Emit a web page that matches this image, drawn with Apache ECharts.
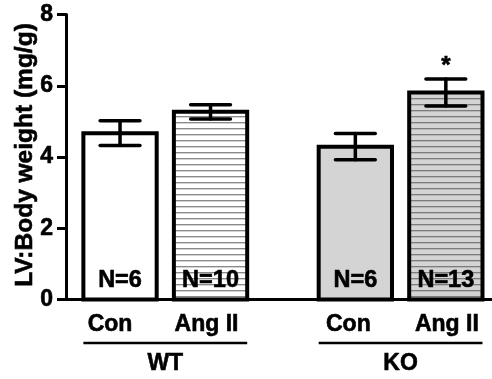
<!DOCTYPE html>
<html>
<head>
<meta charset="utf-8">
<script src="https://cdn.jsdelivr.net/npm/echarts@6/dist/echarts.min.js"></script>
<style>
  html, body { margin: 0; padding: 0; background: #fff; }
  #chart { width: 492px; height: 379px; }
</style>
</head>
<body>
<div id="chart"></div>
<script>
// LV:Body weight by genotype and treatment (mean ± SEM)
const genotypes   = ['WT', 'WT', 'KO', 'KO'];
const treatments  = ['Con', 'Ang II', 'Con', 'Ang II'];
const barPos      = [1, 2, 3.6, 4.6];
const means       = [4.67, 5.27, 4.29, 5.81];
const sems        = [0.35, 0.20, 0.37, 0.38];
const nLabels     = ['N=6', 'N=10', 'N=6', 'N=13'];
const marks       = ['', '', '', '*'];
const groupNames  = ['WT', 'KO'];
const groupSpans  = [[1, 2], [3.6, 4.6]];
const yTicks      = [0, 2, 4, 6, 8];

const FONT = '"Liberation Sans", Arial, Helvetica, sans-serif';
const BAR_W = 0.81;          // bar width in x-axis units
const CAP_W = 0.44;          // error bar cap width in x-axis units
const labelDx = [-10, -4, -7, 1];
const HEAVY = { stroke: '#000', lineWidth: 0.6 };   // slightly heavier bold text

// horizontal stripe fill
function stripes(bg, line) {
  const c = document.createElement('canvas');
  c.width = 6; c.height = 6;
  const g = c.getContext('2d');
  g.fillStyle = bg; g.fillRect(0, 0, 6, 6);
  g.fillStyle = line; g.fillRect(0, 2, 6, 1);
  g.fillStyle = 'rgba(128,128,128,0.35)'; g.fillRect(0, 3, 6, 1);
  return { image: c, repeat: 'repeat' };
}
const fills = ['#ffffff', stripes('#ffffff', '#8a8a8a'), '#d4d4d4', stripes('#d4d4d4', '#7c7c7c')];

function txt(text, size, align, vAlign) {
  return Object.assign({ text, fill: '#000', font: 'bold ' + size + 'px ' + FONT, align, verticalAlign: vAlign }, HEAVY);
}

const barData = barPos.map((x, i) => [x, means[i], sems[i], i]);

const chart = echarts.init(document.getElementById('chart'), null, { renderer: 'canvas' });
chart.setOption({
  animation: false,
  grid: { left: 66, right: 0, top: 14.5, bottom: 79.5 },
  xAxis: {
    type: 'value', min: 0.403, max: 5.11,
    axisLine: { show: true, onZero: false, lineStyle: { color: '#000', width: 3 } },
    axisTick: { show: false }, axisLabel: { show: false }, splitLine: { show: false }
  },
  yAxis: {
    type: 'value', min: yTicks[0], max: yTicks[yTicks.length - 1], interval: 2,
    axisLine: { show: true, lineStyle: { color: '#000', width: 3 } },
    axisTick: { show: true, inside: false, length: 9, lineStyle: { color: '#000', width: 3 } },
    axisLabel: { color: '#000', fontFamily: FONT, fontWeight: 'bold', fontSize: 23, margin: 13,
                 textBorderColor: '#000', textBorderWidth: 0.6 },
    splitLine: { show: false }
  },
  graphic: [{
    type: 'text', x: 25.5, y: 155, rotation: Math.PI / 2,
    style: txt('LV:Body weight (mg/g)', 24.5, 'center', 'middle')
  }],
  series: [{
    type: 'custom',
    data: barData,
    clip: false,
    renderItem(params, api) {
      const x = api.value(0), m = api.value(1), s = api.value(2), i = api.value(3);
      const top = api.coord([x, m]);
      const base = api.coord([x, 0]);
      const w = api.size([BAR_W, 0])[0];
      const cw = api.size([CAP_W, 0])[0];
      const hi = api.coord([x, m + s]);
      const lo = api.coord([x, m - s]);
      const err = { stroke: '#000', lineWidth: 3.5, lineCap: 'round' };
      const children = [
        { type: 'rect', shape: { x: top[0] - w / 2, y: top[1], width: w, height: base[1] - top[1] },
          style: { fill: fills[i], stroke: '#000', lineWidth: 4 } },
        { type: 'line', shape: { x1: hi[0], y1: hi[1], x2: lo[0], y2: lo[1] }, style: err },
        { type: 'line', shape: { x1: hi[0] - cw / 2, y1: hi[1], x2: hi[0] + cw / 2, y2: hi[1] }, style: err },
        { type: 'line', shape: { x1: lo[0] - cw / 2, y1: lo[1], x2: lo[0] + cw / 2, y2: lo[1] }, style: err },
        { type: 'text', x: base[0], y: base[1] - 7, style: txt(nLabels[i], 23.5, 'center', 'bottom') },
        { type: 'text', x: base[0] + labelDx[i], y: base[1] + 25, style: txt(treatments[i], 23, 'center', 'middle') }
      ];
      if (marks[i]) {
        children.push({ type: 'text', x: hi[0], y: hi[1] - 1, style: txt(marks[i], 24, 'center', 'bottom') });
      }
      return { type: 'group', children };
    }
  }, {
    type: 'custom',
    data: groupSpans.map((s, i) => [s[0], s[1], i]),
    clip: false,
    renderItem(params, api) {
      const a = api.coord([api.value(0) - BAR_W / 2, 0]);
      const b = api.coord([api.value(1) + BAR_W / 2, 0]);
      const y = a[1] + 43.5;
      return { type: 'group', children: [
        { type: 'line', shape: { x1: a[0], y1: y, x2: b[0], y2: y }, style: { stroke: '#000', lineWidth: 2.5 } },
        { type: 'text', x: (a[0] + b[0]) / 2, y: y + 21, style: txt(groupNames[api.value(2)], 23, 'center', 'middle') }
      ] };
    }
  }]
});
</script>
</body>
</html>
